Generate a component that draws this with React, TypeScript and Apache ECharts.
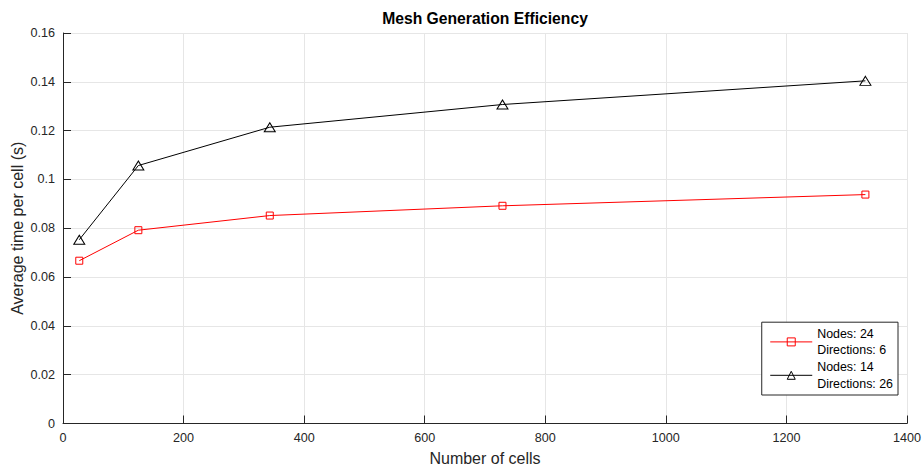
import React, { useEffect, useRef } from "react";
import * as echarts from "echarts";

const cells = [27, 125, 343, 729, 1331];
const nodes24dir6 = [0.0667, 0.0792, 0.0852, 0.0892, 0.0938];
const nodes14dir26 = [0.0753, 0.1057, 0.1214, 0.1307, 0.1404];
const seriesNames = ["Nodes: 24\nDirections: 6", "Nodes: 14\nDirections: 26"];

const FONT = "Liberation Sans, Arial, Helvetica, sans-serif";
const AXIS = "#262626";

export default function App() {
  const ref = useRef<HTMLDivElement>(null);
  useEffect(() => {
    if (!ref.current) return;
    const chart = echarts.init(ref.current, undefined, { renderer: "svg" });
    const pts = (ys: number[]) => cells.map((x, i) => [x, ys[i]]);
    chart.setOption({
      animation: false,
      backgroundColor: "#fff",
      title: {
        text: "Mesh Generation Efficiency",
        left: 485,
        textAlign: "center",
        top: 10,
        padding: 0,
        textStyle: { fontFamily: FONT, fontSize: 15.7, fontWeight: "bold", color: "#000" },
      },
      grid: {
        left: 63,
        right: 15,
        top: 33,
        bottom: 42.5,
        containLabel: false,
        outerBoundsMode: "none",
      },
      legend: {
        orient: "vertical",
        right: 24,
        bottom: 71,
        itemGap: 0,
        itemWidth: 42,
        itemHeight: 10,
        padding: [3, 5, 3, 8],
        backgroundColor: "#fff",
        borderColor: AXIS,
        borderWidth: 1,
        borderRadius: 0,
        lineStyle: { width: 1 },
        itemStyle: { borderWidth: 1 },
        data: seriesNames,
        textStyle: { fontFamily: FONT, fontSize: 12.4, color: "#000", lineHeight: 16.7 },
      },
      xAxis: {
        type: "value",
        min: 0,
        max: 1400,
        interval: 200,
        name: "Number of cells",
        nameLocation: "middle",
        nameGap: 27,
        nameMoveOverlap: false,
        nameTextStyle: { fontFamily: FONT, fontSize: 16, color: AXIS },
        axisLine: { show: true, lineStyle: { color: AXIS, width: 1 } },
        axisTick: { show: true, inside: true, length: 8, lineStyle: { color: AXIS } },
        axisLabel: { fontFamily: FONT, fontSize: 12.6, color: AXIS, margin: 8, formatter: (v: number) => String(v) },
        splitLine: { show: true, lineStyle: { color: "#e6e6e6", width: 1 } },
      },
      yAxis: {
        type: "value",
        min: 0,
        max: 0.16,
        interval: 0.02,
        name: "Average time per cell (s)",
        nameLocation: "middle",
        nameGap: 38,
        nameMoveOverlap: false,
        nameTextStyle: { fontFamily: FONT, fontSize: 16, color: AXIS },
        axisLine: { show: true, lineStyle: { color: AXIS, width: 1 } },
        axisTick: { show: true, inside: true, length: 8, lineStyle: { color: AXIS } },
        axisLabel: {
          fontFamily: FONT,
          fontSize: 12.6,
          color: AXIS,
          margin: 8,
          formatter: (v: number) => String(parseFloat(v.toFixed(4))),
        },
        splitLine: { show: true, lineStyle: { color: "#e6e6e6", width: 1 } },
      },
      series: [
        {
          name: seriesNames[0],
          type: "line",
          data: pts(nodes24dir6),
          symbol: "rect",
          symbolSize: 7,
          lineStyle: { color: "#ff0000", width: 1 },
          itemStyle: { color: "rgba(255,255,255,0)", borderColor: "#ff0000", borderWidth: 1 },
          z: 3,
        },
        {
          name: seriesNames[1],
          type: "line",
          data: pts(nodes14dir26),
          symbol: "triangle",
          symbolSize: [11, 9],
          lineStyle: { color: "#000000", width: 1 },
          itemStyle: { color: "rgba(255,255,255,0)", borderColor: "#000000", borderWidth: 1 },
          z: 3,
        },
      ],
    });
    return () => chart.dispose();
  }, []);
  return <div ref={ref} style={{ width: 922, height: 466, position: "absolute", left: 0, top: 0 }} />;
}
